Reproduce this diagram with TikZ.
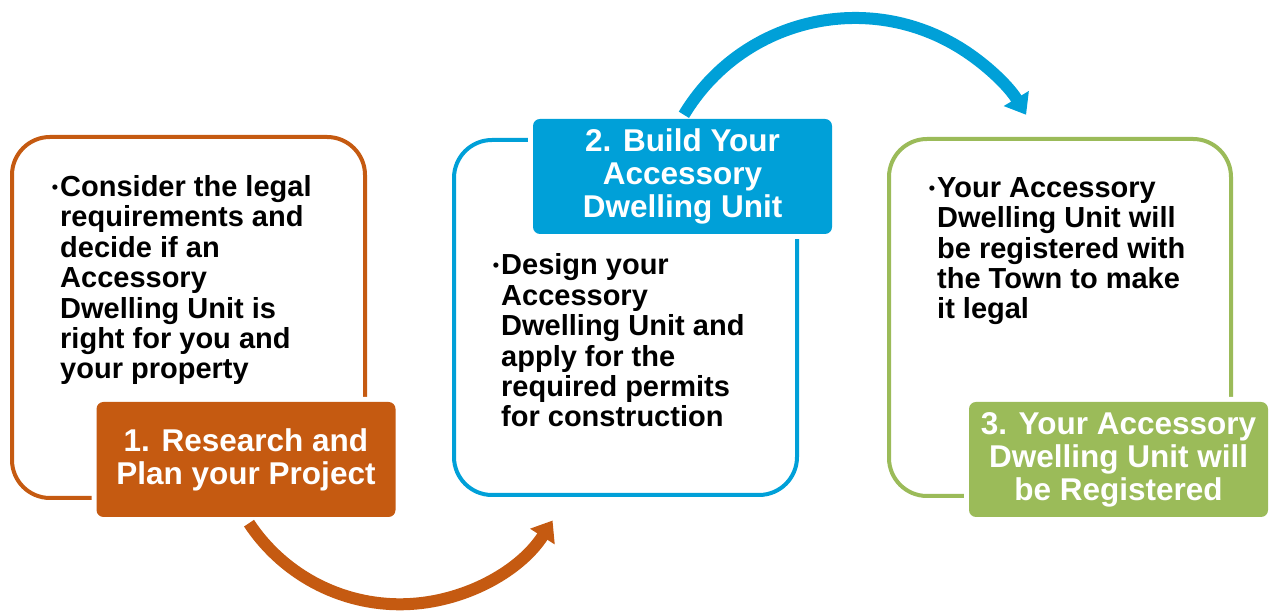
\documentclass[tikz,border=0pt]{standalone}
\usepackage{fontspec}
\setmainfont{Liberation Sans}
\usetikzlibrary{arrows.meta}

\definecolor{stepOrange}{HTML}{C55A11}
\definecolor{stepBlue}{HTML}{00A0D8}
\definecolor{stepGreen}{HTML}{9BBB59}

\newcommand{\bul}{\llap{{\fontsize{18}{18}\selectfont\raisebox{3pt}{•}}\hspace{2pt}}}

\tikzset{
  frame/.style={draw=#1, line width=4pt, rounded corners=38pt, inner sep=0pt},
  tag/.style={fill=#1, preaction={draw=white, line width=10pt}, rounded corners=7pt,
    minimum width=299pt, minimum height=115pt, inner sep=0pt, align=center,
    text=white, font=\fontsize{31.5}{33}\selectfont\bfseries},
  body/.style={anchor=base west, inner sep=0pt, align=left,
    font=\fontsize{29}{30.4}\selectfont\bfseries},
  flow/.style={line width=12pt, -{Triangle[length=19pt,width=28pt]}, draw=#1}
}

\begin{document}
\begin{tikzpicture}[x=1pt, y=1pt]
  \useasboundingbox (0,0) rectangle (1270,612);
  % outline boxes
  \node[frame=stepOrange, minimum width=353pt, minimum height=361pt] (box1) at (188.5,294.5) {};
  \node[frame=stepBlue, minimum width=343pt, minimum height=355pt] (box2) at (625.5,294.5) {};
  \node[frame=stepGreen, minimum width=342pt, minimum height=357pt] (box3) at (1060,294.5) {};
  % step titles
  \node[tag=stepOrange] (lab1) at (246,152.5) {1. Research and\\Plan your Project};
  \node[tag=stepBlue] (lab2) at (682.5,435.5) {2. Build Your\\Accessory\\Dwelling Unit};
  \node[tag=stepGreen] (lab3) at (1118.5,152.5) {3. Your Accessory\\Dwelling Unit will\\be Registered};
  % arrows
  \draw[flow=stepOrange] (lab1.south) ++(3,-6) arc[start angle=213.5, end angle=327.5, radius=181pt];
  \draw[flow=stepBlue] (lab2.north) ++(1.4,4) arc[start angle=149, end angle=31, radius=199.6pt];
  % texts (anchored at the last line)
  \node[body] (txt1) at (60,233) {\bul Consider the legal\\requirements and\\decide if an\\Accessory\\Dwelling Unit is\\right for you and\\your property};
  \node[body] (txt2) at (501,185) {\bul Design your\\Accessory\\Dwelling Unit and\\apply for the\\required permits\\for construction};
  \node[body] (txt3) at (937,293) {\bul Your Accessory\\Dwelling Unit will\\be registered with\\the Town to make\\it legal};
\end{tikzpicture}
\end{document}
